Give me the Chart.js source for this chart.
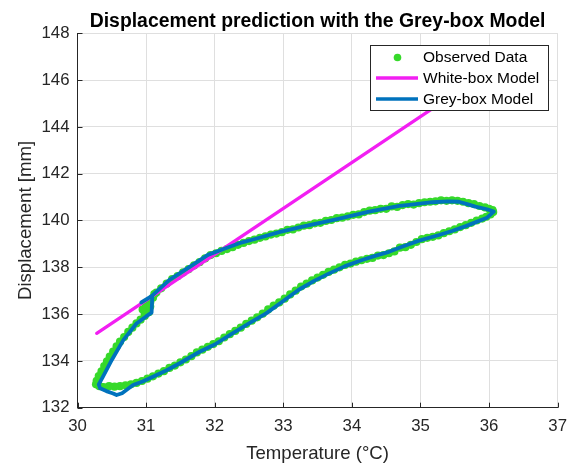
<!DOCTYPE html>
<html>
<head>
<meta charset="utf-8">
<script src="https://cdn.jsdelivr.net/npm/chart.js@4.4.1/dist/chart.umd.min.js"></script>
<style>
  html, body { margin: 0; padding: 0; background: #fff; }
  #wrap { width: 576px; height: 466px; }
</style>
</head>
<body>
<div id="wrap"><canvas id="dispChart" width="576" height="466"></canvas></div>
<script>
// observed temperature / displacement
const obsTemp = [
  30.27, 30.28, 30.31, 30.35, 30.39, 30.43, 30.47, 30.52, 30.57, 30.62, 30.68, 30.74, 30.80, 30.86, 30.92, 30.98, 31.04,
  30.98, 30.95, 31.00, 31.06, 31.10, 31.06, 31.12,
  31.15, 31.22, 31.30, 31.38, 31.46, 31.54, 31.62, 31.70, 31.78, 31.86, 31.94, 32.02, 32.10, 32.18, 32.26, 32.34,
  32.42, 32.50, 32.58, 32.66, 32.74, 32.82, 32.90, 32.98, 33.06, 33.14, 33.22, 33.30, 33.38, 33.46, 33.54, 33.62,
  33.70, 33.78, 33.86, 33.94, 34.02, 34.10, 34.18, 34.26, 34.34, 34.42, 34.50, 34.58, 34.66, 34.74, 34.82, 34.90,
  34.98, 35.06, 35.14, 35.22, 35.30, 35.38, 35.46, 35.54, 35.62, 35.70, 35.78, 35.86, 35.94, 36.00, 36.05, 36.06, 36.02,
  35.96, 35.90, 35.82, 35.74, 35.66, 35.58, 35.50, 35.42, 35.34, 35.26, 35.18, 35.10, 35.02, 34.94, 34.86, 34.78,
  34.70, 34.62, 34.54, 34.46, 34.38, 34.30, 34.22, 34.14, 34.06, 33.98, 33.90, 33.82, 33.74, 33.66, 33.58, 33.50,
  33.42, 33.34, 33.26, 33.18, 33.10, 33.02, 32.94, 32.86, 32.78, 32.70, 32.62, 32.54, 32.46, 32.38, 32.30, 32.22,
  32.14, 32.06, 31.98, 31.90, 31.82, 31.74, 31.66, 31.58, 31.50, 31.42, 31.34, 31.26, 31.18, 31.10, 31.02, 30.94,
  30.86, 30.78, 30.70, 30.62, 30.54, 30.46, 30.38, 30.32
];
const obsDisp = [
  133.00, 133.15, 133.35, 133.55, 133.78, 133.98, 134.18, 134.40, 134.62, 134.82, 135.02, 135.24, 135.42, 135.60, 135.76, 135.92, 136.08,
  136.05, 136.20, 136.38, 136.50, 136.70, 136.32, 136.85,
  136.92, 137.10, 137.30, 137.50, 137.62, 137.78, 137.92, 138.08, 138.22, 138.38, 138.52, 138.60, 138.70, 138.78, 138.86, 138.96,
  139.04, 139.12, 139.18, 139.26, 139.32, 139.40, 139.44, 139.50, 139.60, 139.62, 139.70, 139.78, 139.80, 139.88, 139.90, 139.98,
  140.02, 140.10, 140.12, 140.18, 140.24, 140.26, 140.36, 140.42, 140.44, 140.50, 140.50, 140.60, 140.58, 140.66, 140.70, 140.68,
  140.74, 140.78, 140.80, 140.82, 140.86, 140.84, 140.86, 140.84, 140.80, 140.74, 140.70, 140.62, 140.56, 140.50, 140.44, 140.36, 140.26,
  140.16, 140.08, 140.00, 139.90, 139.80, 139.72, 139.62, 139.54, 139.46, 139.36, 139.30, 139.26, 139.20, 139.08, 138.96, 138.86,
  138.84, 138.68, 138.60, 138.52, 138.50, 138.40, 138.36, 138.30, 138.24, 138.16, 138.10, 138.00, 137.90, 137.80, 137.68, 137.56,
  137.44, 137.30, 137.18, 137.00, 136.84, 136.66, 136.50, 136.36, 136.20, 136.02, 135.86, 135.72, 135.58, 135.42, 135.28, 135.14,
  135.00, 134.84, 134.72, 134.60, 134.48, 134.36, 134.20, 134.06, 133.94, 133.80, 133.70, 133.56, 133.46, 133.34, 133.24, 133.14,
  133.06, 133.00, 132.96, 132.92, 132.90, 132.92, 132.88, 132.92
];

// white-box model (linear in temperature)
const whiteTemp = [30.28, 36.05];
const whiteDisp = [135.18, 146.50];

// grey-box model trajectory
const greyTemp = [
  30.93, 31.08, 31.34, 31.64, 31.90, 32.12, 32.36, 32.60, 32.94, 33.28, 33.77, 34.25, 34.69, 34.93, 35.17, 35.40,
  35.56, 35.68, 35.80, 35.97, 36.07, 35.97, 35.80, 35.66, 35.47, 35.27, 34.98, 34.75, 34.54, 34.35, 34.15, 33.90,
  33.67, 33.45, 33.22, 33.02, 32.75, 32.50, 32.26, 32.00, 31.78, 31.49, 31.30, 31.10, 30.95, 30.81, 30.65, 30.57,
  30.52, 30.42, 30.33, 30.31, 30.37, 30.50, 30.67, 30.86, 31.00, 31.08, 31.09
];
const greyDisp = [
  136.50, 136.77, 137.46, 138.03, 138.53, 138.77, 139.03, 139.22, 139.50, 139.74, 140.05, 140.38, 140.62, 140.70, 140.78, 140.82,
  140.80, 140.70, 140.59, 140.48, 140.38, 140.12, 139.92, 139.76, 139.56, 139.38, 139.14, 138.90, 138.66, 138.50, 138.31, 138.05,
  137.74, 137.42, 137.03, 136.60, 136.03, 135.60, 135.18, 134.70, 134.39, 133.90, 133.60, 133.32, 133.12, 132.97, 132.62, 132.54,
  132.61, 132.71, 132.83, 133.00, 133.32, 134.04, 134.90, 135.60, 135.90, 136.06, 136.74
];

const xTicks = [30, 31, 32, 33, 34, 35, 36, 37];
const yTicks = [132, 134, 136, 138, 140, 142, 144, 146, 148];

const seriesNames = ['Observed Data', 'White-box Model', 'Grey-box Model'];
const GREEN = '#36d92a';
const MAGENTA = '#f21ff2';
const BLUE = '#0072bd';
const AXIS = '#262626';
const FONT = '"Liberation Sans", Arial, Helvetica, sans-serif';

function pairs(xs, ys) {
  return xs.map((x, i) => ({ x: x, y: ys[i] }));
}

// inward tick marks like the original axes
const insideTicks = {
  id: 'insideTicks',
  afterDatasetsDraw(chart) {
    const { ctx, chartArea, scales } = chart;
    ctx.save();
    ctx.strokeStyle = AXIS;
    ctx.lineWidth = 1;
    ctx.beginPath();
    xTicks.forEach(v => {
      const px = Math.round(scales.x.getPixelForValue(v)) + 0.5;
      ctx.moveTo(px, chartArea.bottom);
      ctx.lineTo(px, chartArea.bottom - 5);
    });
    yTicks.forEach(v => {
      const py = Math.round(scales.y.getPixelForValue(v)) + 0.5;
      ctx.moveTo(chartArea.left, py);
      ctx.lineTo(chartArea.left + 5, py);
    });
    ctx.stroke();
    ctx.restore();
  }
};

// boxed legend in the upper right corner
const boxLegend = {
  id: 'boxLegend',
  afterDraw(chart) {
    const { ctx } = chart;
    const x0 = 370.5, y0 = 45.5, w = 178, h = 65;
    ctx.save();
    ctx.fillStyle = '#fff';
    ctx.fillRect(x0, y0, w, h);
    ctx.strokeStyle = AXIS;
    ctx.lineWidth = 1;
    ctx.strokeRect(x0, y0, w, h);

    const rows = [57.5, 78, 99];
    ctx.fillStyle = GREEN;
    ctx.beginPath();
    ctx.arc(397.5, rows[0], 3.8, 0, Math.PI * 2);
    ctx.fill();

    ctx.lineWidth = 3.4;
    ctx.strokeStyle = MAGENTA;
    ctx.beginPath();
    ctx.moveTo(376, rows[1]);
    ctx.lineTo(418, rows[1]);
    ctx.stroke();
    ctx.strokeStyle = BLUE;
    ctx.beginPath();
    ctx.moveTo(376, rows[2]);
    ctx.lineTo(418, rows[2]);
    ctx.stroke();

    ctx.fillStyle = '#000';
    ctx.font = '15.5px ' + FONT;
    ctx.textBaseline = 'middle';
    ctx.textAlign = 'left';
    seriesNames.forEach((name, i) => ctx.fillText(name, 423, rows[i] + 0.5));
    ctx.restore();
  }
};

const ctx = document.getElementById('dispChart').getContext('2d');
new Chart(ctx, {
  type: 'scatter',
  data: {
    datasets: [
      {
        label: seriesNames[0],
        data: pairs(obsTemp, obsDisp),
        backgroundColor: GREEN,
        borderWidth: 0,
        pointRadius: 4.1,
        pointHoverRadius: 4.1,
        order: 3
      },
      {
        label: seriesNames[1],
        data: pairs(whiteTemp, whiteDisp),
        showLine: true,
        borderColor: MAGENTA,
        borderWidth: 3.3,
        pointRadius: 0,
        borderCapStyle: 'round',
        order: 2
      },
      {
        label: seriesNames[2],
        data: pairs(greyTemp, greyDisp),
        showLine: true,
        borderColor: BLUE,
        borderWidth: 3.8,
        pointRadius: 0,
        tension: 0,
        borderJoinStyle: 'round',
        borderCapStyle: 'round',
        order: 1
      }
    ]
  },
  options: {
    responsive: false,
    animation: false,
    devicePixelRatio: 1,
    layout: { padding: { left: 0, right: 18, top: 0, bottom: 0 } },
    plugins: {
      legend: { display: false },
      tooltip: { enabled: false },
      title: {
        display: true,
        text: 'Displacement prediction with the Grey-box Model',
        color: '#000',
        fullSize: false,
        font: { family: FONT, size: 19.4, weight: 'bold', lineHeight: 1.2 },
        padding: { top: 10, bottom: 0 }
      }
    },
    scales: {
      x: {
        type: 'linear',
        min: 30,
        max: 37,
        afterFit: s => { s.height = 58.3; },
        afterBuildTicks: s => { s.ticks = xTicks.map(v => ({ value: v })); },
        ticks: { color: AXIS, padding: 9, font: { family: FONT, size: 16.8 } },
        grid: { color: '#dfdfdf', lineWidth: 1, drawTicks: false },
        border: { display: true, color: AXIS, width: 1 },
        title: {
          display: true,
          text: 'Temperature (°C)',
          color: AXIS,
          font: { family: FONT, size: 18.6 },
          padding: { top: 0, bottom: 1 }
        }
      },
      y: {
        type: 'linear',
        min: 132,
        max: 148,
        afterFit: s => { s.width = 77.5; },
        afterBuildTicks: s => { s.ticks = yTicks.map(v => ({ value: v })); },
        ticks: { color: AXIS, padding: 8, font: { family: FONT, size: 16.8 } },
        grid: { color: '#dfdfdf', lineWidth: 1, drawTicks: false },
        border: { display: true, color: AXIS, width: 1 },
        title: {
          display: true,
          text: 'Displacement [mm]',
          color: AXIS,
          font: { family: FONT, size: 18.6 },
          padding: { top: 15, bottom: 0 }
        }
      }
    }
  },
  plugins: [insideTicks, boxLegend]
});
</script>
</body>
</html>
